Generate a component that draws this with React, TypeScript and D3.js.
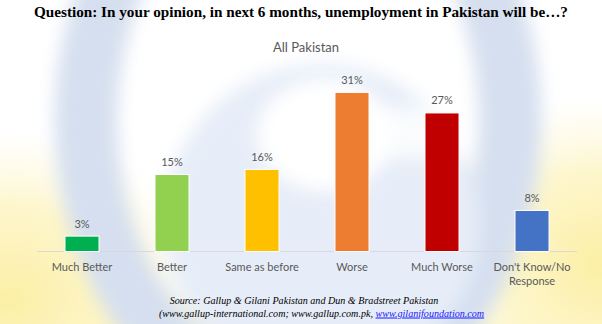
import React from "react";
import * as d3 from "d3";

const title = "Question: In your opinion, in next 6 months, unemployment in Pakistan will be…?";
const subtitle = "All Pakistan";
const categories = ["Much Better", "Better", "Same as before", "Worse", "Much Worse", "Don't Know/No Response"];
const categoryLines = [["Much Better"], ["Better"], ["Same as before"], ["Worse"], ["Much Worse"], ["Don't Know/No", "Response"]];
const values = [3, 15, 16, 31, 27, 8];
const colors = ["#00b050", "#92d050", "#ffc000", "#ed7d31", "#c00000", "#4472c4"];
const sourceLine1 = "Source: Gallup & Gilani Pakistan and Dun & Bradstreet Pakistan";
const sourceLine2a = "(www.gallup-international.com; www.gallup.com.pk, ";
const sourceLink = "www.gilanifoundation.com";

const W = 602;
const H = 324;

export default function App() {
  const x = d3.scaleBand<string>().domain(categories).range([37, 577]).paddingInner(0.622).paddingOuter(0.311);
  const y = d3.scaleLinear().domain([0, 35]).range([251.5, 71.9]);
  const sans = "Lato, 'Open Sans', sans-serif";
  const serif = "'Liberation Serif', 'Times New Roman', serif";
  return (
    <svg width={W} height={H} style={{ position: "absolute", left: 0, top: 0, background: "#fff" }}>
      <defs>
        <radialGradient id="yellowGlow">
          <stop offset="0%" stopColor="#fbec94" stopOpacity={0.85} />
          <stop offset="55%" stopColor="#fcf0aa" stopOpacity={0.6} />
          <stop offset="100%" stopColor="#fdf6cc" stopOpacity={0} />
        </radialGradient>
        <filter id="blurMid" x="-20%" y="-20%" width="140%" height="140%">
          <feGaussianBlur stdDeviation="9" />
        </filter>
      </defs>
      {/* watermark */}
      <ellipse cx={10} cy={300} rx={200} ry={170} fill="url(#yellowGlow)" />
      <ellipse cx={600} cy={265} rx={180} ry={170} fill="url(#yellowGlow)" />
      <ellipse cx={300} cy={340} rx={300} ry={60} fill="url(#yellowGlow)" opacity={0.7} />
      <g filter="url(#blurMid)">
        <ellipse cx={298} cy={120} rx={212} ry={280} fill="none" stroke="#d5dfef" strokeWidth={62} />
        <circle cx={322} cy={222} r={158} fill="#e6edf8" />
        <ellipse cx={325} cy={135} rx={68} ry={56} fill="#ffffff" />
        <rect x={360} y={108} width={110} height={50} fill="#ffffff" opacity={0.8} />
      </g>

      <text x={301} y={17} textAnchor="middle" fontFamily={serif} fontWeight="bold" fontSize={15.2} fill="#000">
        {title}
      </text>
      <text x={306} y={52} textAnchor="middle" fontFamily={sans} fontSize={13} fill="#595959">
        {subtitle}
      </text>

      <line x1={37} x2={577} y1={251.5} y2={251.5} stroke="#d9d9d9" strokeWidth={1} />

      {categories.map((c, i) => {
        const bx = x(c)!;
        const bw = x.bandwidth();
        const top = y(values[i]);
        return (
          <g key={c}>
            <rect x={bx} y={top} width={bw} height={y(0) - top} fill={colors[i]} stroke="#fff" strokeWidth={1} />
            <text x={bx + bw / 2} y={top - 8.5} textAnchor="middle" fontFamily={sans} fontSize={11} fill="#595959">
              {values[i]}%
            </text>
            {categoryLines[i].map((ln, j) => (
              <text key={j} x={bx + bw / 2} y={271 + j * 13.5} textAnchor="middle" fontFamily={sans} fontSize={11} fill="#595959">
                {ln}
              </text>
            ))}
          </g>
        );
      })}

      <text x={304} y={304} textAnchor="middle" fontFamily={serif} fontStyle="italic" fontSize={10.1} fill="#000">
        {sourceLine1}
      </text>
      <text x={321.5} y={316.5} textAnchor="middle" fontFamily={serif} fontStyle="italic" fontSize={10.1} fill="#000">
        {sourceLine2a}
        <tspan fill="#1a1aff" textDecoration="underline">{sourceLink}</tspan>
      </text>
    </svg>
  );
}
